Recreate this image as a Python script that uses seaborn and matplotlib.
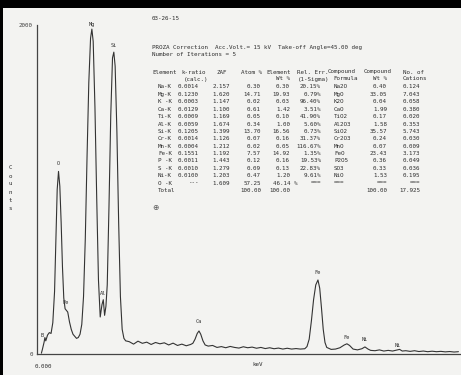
import matplotlib
matplotlib.use("Agg")
import matplotlib.pyplot as plt
import seaborn as sns
import pandas as pd
from matplotlib.patches import Rectangle

# ---------------- data ----------------
energy_kev = [0.10, 0.12, 0.16, 0.18, 0.20, 0.24, 0.28, 0.32, 0.36, 0.40, 0.43, 0.46,
              0.49, 0.52, 0.55, 0.58, 0.61, 0.64, 0.67, 0.70, 0.74, 0.78, 0.82, 0.86,
              0.90, 0.94, 0.98, 1.02, 1.06, 1.10, 1.14, 1.18, 1.22, 1.25, 1.28, 1.32,
              1.36, 1.40, 1.44, 1.48, 1.51, 1.54, 1.57, 1.60, 1.64, 1.68, 1.72, 1.75,
              1.78, 1.82, 1.86, 1.90, 1.94, 1.98, 2.02, 2.10, 2.20, 2.30, 2.40, 2.50,
              2.60, 2.70, 2.80, 2.90, 3.00, 3.10, 3.20, 3.30, 3.40, 3.50, 3.55, 3.60,
              3.65, 3.69, 3.73, 3.78, 3.83, 3.90, 4.00, 4.10, 4.20, 4.30, 4.40, 4.50,
              4.60, 4.70, 4.80, 4.90, 5.00, 5.10, 5.20, 5.30, 5.40, 5.50, 5.60, 5.70,
              5.80, 5.90, 6.00, 6.10, 6.15, 6.20, 6.25, 6.30, 6.35, 6.40, 6.44, 6.48,
              6.52, 6.56, 6.60, 6.70, 6.80, 6.90, 7.00, 7.06, 7.12, 7.20, 7.30, 7.40,
              7.47, 7.54, 7.60, 7.70, 7.80, 7.90, 8.00, 8.10, 8.20, 8.26, 8.32, 8.40,
              8.50, 8.60, 8.70, 8.80, 8.90, 9.00, 9.10, 9.20, 9.30, 9.40, 9.50, 9.60]
counts = [5, 25, 70, 100, 80, 115, 130, 125, 190, 380, 700, 1000,
          1110, 1020, 800, 530, 340, 275, 265, 255, 195, 150, 120, 108,
          95, 100, 120, 180, 350, 700, 1200, 1650, 1920, 1975, 1900, 1500,
          950, 450, 225, 300, 330, 235, 290, 420, 900, 1450, 1800, 1835,
          1750, 1350, 800, 350, 150, 95, 80, 75, 60, 78, 65, 72,
          58, 70, 62, 68, 55, 66, 52, 60, 50, 58, 65, 90,
          125, 140, 120, 80, 55, 48, 52, 40, 45, 38, 46, 40,
          36, 44, 38, 42, 35, 40, 33, 38, 32, 36, 30, 35,
          30, 33, 30, 32, 45, 90, 200, 330, 420, 450, 400, 280,
          150, 70, 40, 28, 30, 38, 55, 62, 52, 30, 25, 32,
          43, 30, 22, 20, 25, 18, 22, 18, 24, 28, 18, 20,
          16, 20, 15, 18, 14, 17, 14, 16, 13, 15, 12, 14]

peak_labels = ["B", "O", "Fe", "Mg", "Al", "Si", "Ca", "Fe", "Fe", "Ni", "Ni"]
peak_label_kev = [0.11, 0.48, 0.66, 1.253, 1.50, 1.754, 3.69, 6.40, 7.04, 7.47, 8.22]
peak_label_counts = [100, 1140, 300, 1990, 350, 1860, 180, 480, 85, 75, 38]

elements = ["Na-K", "Mg-K", "K -K", "Ca-K", "Ti-K", "Al-K", "Si-K", "Cr-K", "Mn-K",
            "Fe-K", "P -K", "S -K", "Ni-K", "O -K"]
k_ratio = ["0.0014", "0.1230", "0.0003", "0.0129", "0.0009", "0.0059", "0.1205", "0.0014",
           "0.0004", "0.1551", "0.0011", "0.0010", "0.0100", "---"]
zaf = ["2.157", "1.620", "1.147", "1.100", "1.169", "1.674", "1.399", "1.126", "1.212",
       "1.192", "1.443", "1.279", "1.203", "1.609"]
atom_pct = ["0.30", "14.71", "0.02", "0.61", "0.05", "0.34", "13.70", "0.07", "0.02",
            "7.57", "0.12", "0.09", "0.47", "57.25"]
element_wt = ["0.30", "19.93", "0.03", "1.42", "0.10", "1.00", "16.56", "0.16", "0.05",
              "14.92", "0.16", "0.13", "1.20", "46.14 %"]
rel_err = ["20.15%", "0.79%", "96.40%", "3.51%", "41.90%", "5.60%", "0.73%", "31.37%",
           "116.67%", "1.35%", "19.53%", "22.83%", "9.61%", "==="]
formula = ["Na2O", "MgO", "K2O", "CaO", "TiO2", "Al2O3", "SiO2", "Cr2O3", "MnO", "FeO",
           "P2O5", "SO3", "NiO", "==="]
compound_wt = ["0.40", "33.05", "0.04", "1.99", "0.17", "1.58", "35.57", "0.24", "0.07",
               "23.43", "0.36", "0.33", "1.53", "==="]
cations = ["0.124", "7.043", "0.058", "0.380", "0.020", "0.353", "5.743", "0.030", "0.009",
           "3.173", "0.049", "0.036", "0.195", "==="]
totals = ["100.00", "100.00", "100.00", "17.925"]

# ---------------- figure ----------------
W, H = 461, 375
sns.set_style("white")
plt.rcParams["font.family"] = ["DejaVu Sans Mono", "DejaVu Sans"]

fig = plt.figure(figsize=(W / 100, H / 100), dpi=100, facecolor="black")
fig.patches.append(Rectangle((3 / W, 0), 1, 1 - 8 / H, transform=fig.transFigure,
                             facecolor="#f3f3f1", edgecolor="none", zorder=-5))

def P(x, y):
    return x / W, 1 - y / H

ink = "#2e2e2e"
fs = 4.2

ax = fig.add_axes([37 / W, 21 / H, (W - 37) / W, (354 - 25) / H])
ax.set_facecolor("none")
ax.set_zorder(2)
df = pd.DataFrame({"keV": energy_kev, "Counts": counts})
sns.lineplot(data=df, x="keV", y="Counts", ax=ax, color="#333333", linewidth=0.8,
             estimator=None, sort=False)
ax.set_xlim(0, (W - 37) / 43.9)
ax.set_ylim(0, 2000)
for s in ["top", "right"]:
    ax.spines[s].set_visible(False)
for s in ["left", "bottom"]:
    ax.spines[s].set_color("#444444")
    ax.spines[s].set_linewidth(0.9)
ax.set_yticks([0, 2000])
ax.set_yticklabels(["0", "2000"], fontsize=fs, color=ink)
ax.tick_params(axis="y", length=2, width=0.6, pad=1, colors="#444444")
ax.set_xticks([])
ax.set_xlabel("")
ax.set_ylabel("")
fig.text(*P(35, 366), "0.000", fontsize=fs, color=ink, ha="left", va="center")
fig.text(*P(258, 364), "keV", fontsize=fs, color=ink, ha="center", va="center")
for i, ch in enumerate("Counts"):
    fig.text(*P(10, 168 + i * 8), ch, fontsize=fs, color=ink, ha="center", va="center")

for lab, ex, cy in zip(peak_labels, peak_label_kev, peak_label_counts):
    ax.text(ex, cy, lab, fontsize=3.8, color=ink, ha="center", va="bottom", clip_on=False)

# ---------------- report text ----------------
def t(x, y, s, ha="left"):
    fig.text(*P(x, y), s, fontsize=fs, color=ink, ha=ha, va="center")

t(152, 18, "03-26-15")
t(152, 47, "PROZA Correction  Acc.Volt.= 15 kV  Take-off Angle=45.00 deg")
t(152, 54, "Number of Iterations = 5")

t(152, 72, "Element"); t(181, 72, "k-ratio"); t(222, 72, "ZAF", "center")
t(262, 72, "Atom %", "right"); t(266, 72, "Element"); t(297, 72, "Rel. Err.")
t(328, 72, "Compound"); t(364, 72, "Compound"); t(403, 72, "No. of")
t(184, 79, "(calc.)"); t(290, 79, "Wt %", "right"); t(298, 79, "(1-Sigma)")
t(333, 79, "Formula"); t(387, 79, "Wt %", "right"); t(403, 79, "Cations")

row0, dy = 87, 7.4
for i in range(len(elements)):
    y = row0 + i * dy
    t(158, y, elements[i])
    t(199, y, k_ratio[i], "right")
    t(230, y, zaf[i], "right")
    t(261, y, atom_pct[i], "right")
    t(290 if i < 13 else 297, y, element_wt[i], "right")
    t(321, y, rel_err[i], "right")
    t(334, y, formula[i])
    t(387, y, compound_wt[i], "right")
    t(420, y, cations[i], "right")
yt = row0 + len(elements) * dy
t(158, yt, "Total")
t(261, yt, totals[0], "right")
t(290, yt, totals[1], "right")
t(387, yt, totals[2], "right")
t(420, yt, totals[3], "right")

fig.text(*P(155, 207), "\u2295", fontsize=5.5, color="#555555", ha="center", va="center",
         family="DejaVu Sans")

fig.savefig("out.png", dpi=100, facecolor=fig.get_facecolor())
